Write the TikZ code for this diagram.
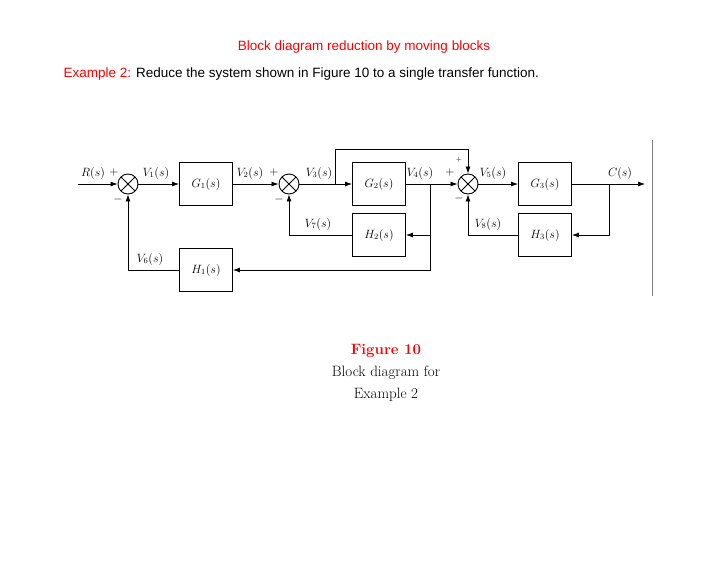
\documentclass[tikz,border=0pt]{standalone}
\usepackage{fontspec}
\newfontfamily\sans{Liberation Sans}
\usetikzlibrary{arrows.meta}
\tikzset{
  blk/.style={draw, line width=0.9pt, minimum width=53pt, minimum height=43pt, inner sep=0pt, font=\fontsize{12}{14}\selectfont},
  sum/.style={draw, circle, line width=0.9pt, minimum size=20pt, inner sep=0pt,
    path picture={\draw (path picture bounding box.north west) -- (path picture bounding box.south east)
      (path picture bounding box.north east) -- (path picture bounding box.south west);}},
  sig/.style={line width=0.8pt, -{Latex[length=7pt,width=5pt]}},
  lbl/.style={font=\fontsize{12}{14}\selectfont, inner sep=1pt}
}
\begin{document}
\begin{tikzpicture}[x=1pt,y=-1pt]
	\useasboundingbox (0,0) rectangle (728,563);
	\node[text=red, font=\sans\fontsize{13.5}{16}\selectfont] (title) at (364,47) {Block diagram reduction by moving blocks};
	\node[anchor=west, font=\sans\fontsize{13.5}{16}\selectfont] (task) at (60,74) {\textcolor{red}{Example 2:} Reduce the system shown in Figure 10 to a single transfer function.};
	
	% Bloecke und Summierer
	\node[sum] (s1) at (128,184) {};
	\node[blk] (g1) at (206,184) {$G_1(s)$};
	\node[sum] (s2) at (289,184) {};
	\node[blk] (g2) at (379,184) {$G_2(s)$};
	\node[blk] (h2) at (379,235) {$H_2(s)$};
	\node[blk] (h1) at (206,270) {$H_1(s)$};
	\node[sum] (s3) at (468,184) {};
	\node[blk] (g3) at (545,184) {$G_3(s)$};
	\node[blk] (h3) at (545,235) {$H_3(s)$};
	
	\coordinate (in) at (78,184);
	\coordinate (b3) at (335,184);
	\coordinate (b4) at (430,184);
	\coordinate (bc) at (609,184);
	\coordinate (out) at (645,184);
	
	% Vorwaertszweig
	\draw[sig] (in) -- (s1);
	\draw[sig] (s1) -- (g1);
	\draw[sig] (g1) -- (s2);
	\draw[sig] (s2) -- (g2);
	\draw[sig] (g2) -- (s3);
	\draw[sig] (s3) -- (g3);
	\draw[sig] (g3) -- (out);
	
	% Rueckfuehrungen
	\draw[sig] (b3) |- (468,149) -- (s3);
	\draw[sig] (b4) |- (h2);
	\draw[sig] (b4) |- (h1);
	\draw[sig] (h2) -| (s2);
	\draw[sig] (h1) -| (s1);
	\draw[sig] (bc) |- (h3);
	\draw[sig] (h3) -| (s3);
	
	\draw[gray, line width=0.6pt] (652,140) -- (652,296);
	
	% Beschriftungen
	\node[lbl] (lr) at (93,173) {$R(s)$};
	\node[lbl] (p1) at (114,172) {$+$};
	\node[lbl] (m1) at (118,199) {$-$};
	\node[lbl] (l1) at (156,173) {$V_1(s)$};
	\node[lbl] (l2) at (250,173) {$V_2(s)$};
	\node[lbl] (p2) at (274,172) {$+$};
	\node[lbl] (m2) at (279,199) {$-$};
	\node[lbl] (l3) at (319,173) {$V_3(s)$};
	\node[lbl] (l4) at (420,173) {$V_4(s)$};
	\node[lbl] (p4) at (450,172) {$+$};
	\node[lbl] (p3) at (459,160) {\scriptsize$+$};
	\node[lbl] (m3) at (459,198) {$-$};
	\node[lbl] (l5) at (493,173) {$V_5(s)$};
	\node[lbl] (lc) at (620,173) {$C(s)$};
	\node[lbl] (l7) at (318,224) {$V_7(s)$};
	\node[lbl] (l8) at (488,224) {$V_8(s)$};
	\node[lbl] (l6) at (150,259) {$V_6(s)$};
	
	\node[text=red, font=\fontsize{15}{18}\selectfont\bfseries] (fig) at (386,351) {Figure 10};
	\node[font=\fontsize{15}{18}\selectfont] (cap1) at (386,373) {Block diagram for};
	\node[font=\fontsize{15}{18}\selectfont] (cap2) at (386,395) {Example 2};
\end{tikzpicture}
\end{document}
